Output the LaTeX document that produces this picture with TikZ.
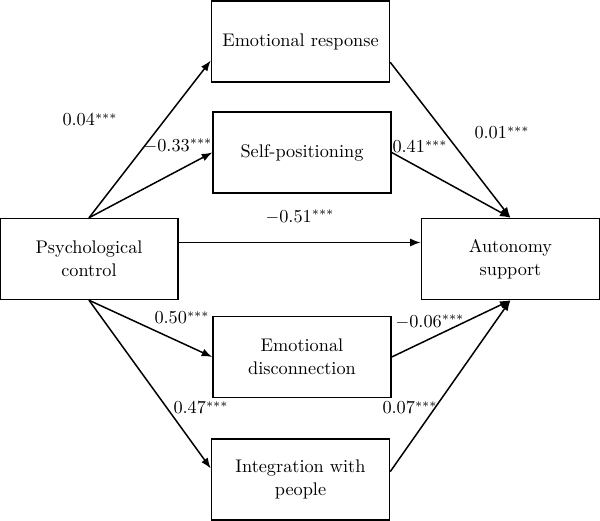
\documentclass[tikz,border=0pt]{standalone}
\usepackage{amsmath}
\usetikzlibrary{arrows.meta}

\tikzset{box/.style={draw, line width=0.85pt, minimum width=3.56cm, minimum height=1.62cm, align=center, inner sep=2pt}}

\begin{document}
\begin{tikzpicture}[x=0.02cm, y=-0.02cm, line width=0.85pt, >={Latex[length=6pt,width=4.5pt]}, font=\fontsize{10.4pt}{13pt}\selectfont]
    \useasboundingbox (0,0) rectangle (600,521);
    \node[box] (ER) at (300.5,41.5) {Emotional response};
    \node[box] (SP) at (302,152.5) {Self-positioning};
    \node[box] (PC) at (89,259) {Psychological\\control};
    \node[box] (AS) at (510.5,259) {Autonomy\\support};
    \node[box] (ED) at (302,357) {Emotional\\disconnection};
    \node[box] (IP) at (300.5,479.5) {Integration with\\people};
    %\node (X) at (0,0) {};
    \node (L1) at (90,120) {0.04$^{***}$};
    \node (L2) at (178,146) {$-$0.33$^{***}$};
    \node (L3) at (300,217) {$-$0.51$^{***}$};
    \node (L4) at (420,147) {0.41$^{***}$};
    \node (L5) at (502,133) {0.01$^{***}$};
    \node (L6) at (182,318) {0.50$^{***}$};
    \node (L7) at (201,408) {0.47$^{***}$};
    \node (L8) at (430,322) {$-$0.06$^{***}$};
    \node (L9) at (410,408) {0.07$^{***}$};
    \path[->] (PC.north) edge (ER.192);
    \path[->] (PC.north) edge (SP.west);
    \path[->] ([yshift=16.5*0.02cm]PC.east) edge ([yshift=16.5*0.02cm]AS.west);
    \path[->] (PC.south) edge (ED.west);
    \path[->] (PC.south) edge (IP.173);
    \path[->] (ER.-13) edge (AS.north);
    \path[->] (SP.east) edge (AS.north);
    \path[->] (ED.east) edge (AS.south);
    \path[->] (IP.5) edge (AS.south);
  \end{tikzpicture}
\end{document}
